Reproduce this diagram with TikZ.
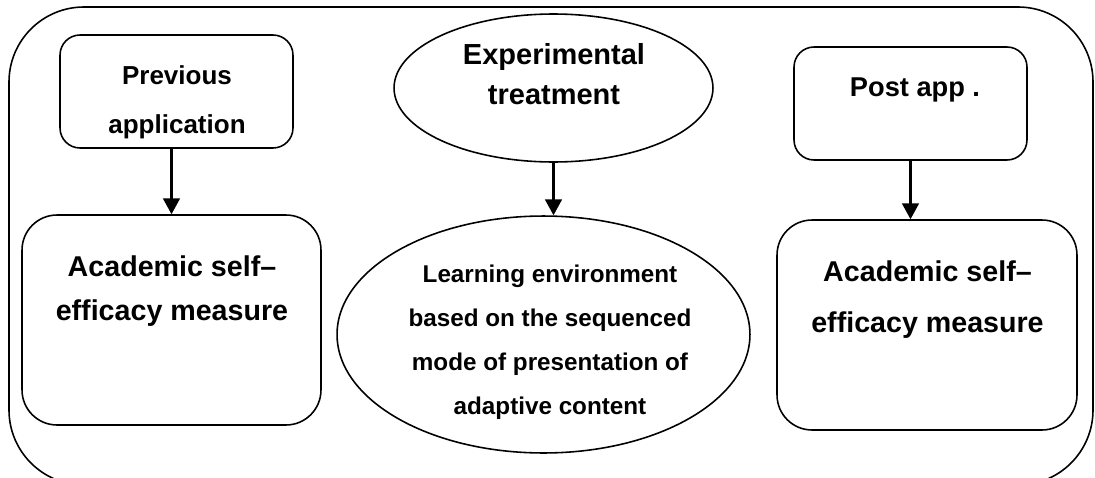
\documentclass[tikz,border=0pt]{standalone}
\usepackage{fontspec}
\setmainfont{Liberation Sans}
\usetikzlibrary{arrows.meta,shapes.geometric,positioning}

\begin{document}
\begin{tikzpicture}[x=0.02cm,y=-0.02cm,
    box/.style={draw,line width=0.9pt,rounded corners=0.4cm,minimum width=4.66cm,minimum height=2.26cm},
    bigbox/.style={draw,line width=0.9pt,rounded corners=0.7cm,minimum height=4.2cm},
    oval/.style={draw,line width=0.9pt,ellipse,inner sep=0pt},
    lbl/.style={inner sep=0pt,anchor=north,align=center},
    arr/.style={line width=1.3pt,-{Triangle[width=9.5pt,length=9pt]}}]
  \useasboundingbox (0,0) rectangle (1095,477);
  % frame round the whole design
  \draw[line width=0.9pt,rounded corners=1.5cm] (9,7) rectangle (1093,485);
  % pre test
  \node[box] (prev) at (176.5,91.5) {};
  \node[bigbox,minimum width=5.98cm] (acl) at (171.5,320) {};
  % treatment
  \node[oval,minimum width=6.38cm,minimum height=2.96cm] (exp) at (553.5,88) {};
  \node[oval,minimum width=8.26cm,minimum height=4.74cm] (lenv) at (543.5,334.5) {};
  % post test
  \node[box] (post) at (910.5,103.5) {};
  \node[bigbox,minimum width=6cm] (acr) at (927,325) {};
  % texts
  \node[lbl,font=\fontsize{14.8}{27.9}\selectfont\bfseries] (prevtxt) at (177,65) {Previous\\application};
  \node[lbl,font=\fontsize{16.3}{25}\selectfont\bfseries] (acltxt) at (172,255) {Academic self–\\efficacy measure};
  \node[lbl,font=\fontsize{16.5}{22.8}\selectfont\bfseries] (exptxt) at (554,43) {Experimental\\treatment};
  \node[lbl,font=\fontsize{13.8}{24.9}\selectfont\bfseries] (lenvtxt) at (550,265)
    {Learning environment\\based on the sequenced\\mode of presentation of\\adaptive content};
  \node[lbl,font=\fontsize{15.5}{20}\selectfont\bfseries] (posttxt) at (915,77) {Post app .};
  \node[lbl,font=\fontsize{16.3}{29}\selectfont\bfseries] (acrtxt) at (927.5,260) {Academic self–\\efficacy measure};
  % arrows
  \draw[arr] (prev.south -| acl.north) -- (acl.north);
  \draw[arr] (exp.south) -- (exp.south |- lenv.north);
  \draw[arr] (post.south) -- (post.south |- acr.north);
\end{tikzpicture}
\end{document}
